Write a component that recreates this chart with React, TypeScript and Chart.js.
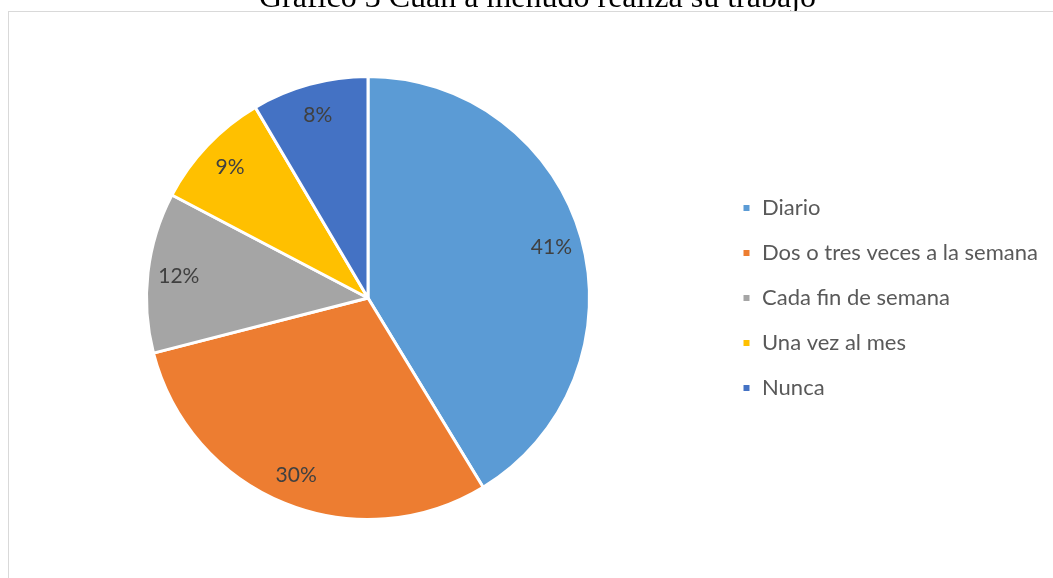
import React, { useEffect, useRef } from "react";
import { Chart, registerables } from "chart.js";

Chart.register(...registerables);

const TITLE = "Gráfico 3 Cuán a menudo realiza su trabajo";
const categories = [
  "Diario",
  "Dos o tres veces a la semana",
  "Cada fin de semana",
  "Una vez al mes",
  "Nunca",
];
// shares
const shares = [41.3, 29.7, 11.7, 8.8, 8.5];
// printed data labels
const sliceLabels = ["41%", "30%", "12%", "9%", "8%"];
const sliceColors = ["#5B9BD5", "#ED7D31", "#A5A5A5", "#FFC000", "#4472C4"];

const FONT = "Lato";
const LEGEND_SIZE = 22;
const LEGEND_PAD = 23;
const BOX = 9;
const CANVAS_W = 1200;
const CANVAS_H = 566;
const LABEL_SIZE = 21;

const labelPlugin = {
  id: "sliceLabels",
  afterDatasetsDraw(chart: any) {
    const ctx = chart.ctx;
    const meta = chart.getDatasetMeta(0);
    ctx.save();
    ctx.font = `${LABEL_SIZE}px ${FONT}`;
    ctx.fillStyle = "#404040";
    ctx.textAlign = "center";
    ctx.textBaseline = "alphabetic";
    meta.data.forEach((arc: any, i: number) => {
      const { x, y, startAngle, endAngle, outerRadius } = arc.getProps(
        ["x", "y", "startAngle", "endAngle", "outerRadius"],
        true
      );
      const mid = (startAngle + endAngle) / 2;
      const r = outerRadius * 0.86;
      ctx.fillText(
        sliceLabels[i],
        x + Math.cos(mid) * r,
        y + Math.sin(mid) * r + LABEL_SIZE * 0.36
      );
    });
    ctx.restore();
  },
};

export default function App() {
  const ref = useRef<HTMLCanvasElement | null>(null);
  useEffect(() => {
    if (!ref.current) return;
    const m = document.createElement("canvas").getContext("2d")!;
    m.font = `normal ${LEGEND_SIZE}px ${FONT}`;
    let maxW = 0;
    categories.forEach((c) => {
      maxW = Math.max(maxW, m.measureText(c).width);
    });
    const legendW = LEGEND_PAD + BOX + LEGEND_SIZE / 2 + maxW + 10;
    const itemX = 733;
    const areaRight = itemX - LEGEND_PAD;
    const centerX = 359;
    const padL = centerX - (areaRight - centerX);
    const padR = CANVAS_W - areaRight - legendW;
    const centerY = 286;
    const halfH = 223;
    const chart = new Chart(ref.current, {
      type: "pie",
      data: {
        labels: categories,
        datasets: [
          {
            data: shares,
            backgroundColor: sliceColors,
            borderColor: "#ffffff",
            borderWidth: 3,
          },
        ],
      },
      options: {
        animation: false,
        responsive: false,
        maintainAspectRatio: false,
        layout: {
          padding: {
            left: padL,
            right: padR,
            top: centerY - halfH,
            bottom: CANVAS_H - (centerY + halfH),
          },
        },
        plugins: {
          title: { display: false },
          tooltip: { enabled: false },
          legend: {
            display: true,
            position: "right",
            align: "center",
            labels: {
              boxWidth: BOX,
              boxHeight: BOX,
              padding: LEGEND_PAD,
              color: "#595959",
              font: { family: FONT, size: LEGEND_SIZE },
            },
          },
        },
      },
      plugins: [labelPlugin],
    });
    return () => chart.destroy();
  }, []);

  return (
    <div>
      <div
        style={{
          position: "fixed",
          left: 0,
          top: -20,
          width: 1075,
          textAlign: "center",
          fontFamily: "'Liberation Serif', 'Times New Roman', serif",
          fontSize: 32,
          lineHeight: "32px",
          color: "#000",
          whiteSpace: "pre",
          zIndex: 0,
        }}
      >
        {TITLE}
      </div>
      <div
        style={{
          position: "fixed",
          left: 8,
          top: 11,
          width: CANVAS_W,
          height: CANVAS_H + 20,
          borderTop: "1px solid #d9d9d9",
          borderLeft: "1px solid #d9d9d9",
          background: "#ffffff",
          overflow: "hidden",
          zIndex: 1,
        }}
      >
        <canvas
          ref={ref}
          width={CANVAS_W}
          height={CANVAS_H}
          style={{ display: "block", width: CANVAS_W, height: CANVAS_H }}
        />
      </div>
    </div>
  );
}
